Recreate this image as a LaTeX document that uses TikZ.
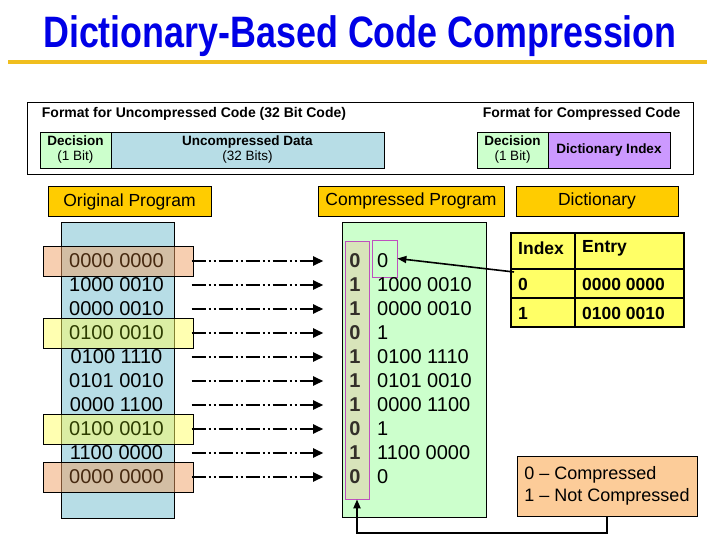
\documentclass[tikz,border=0pt]{standalone}
\usepackage{fontspec}
\usepackage{graphicx}
\setmainfont{Liberation Sans}
\usetikzlibrary{arrows.meta}

\definecolor{titleblue}{RGB}{0,0,230}
\definecolor{rulegold}{RGB}{240,190,30}
\definecolor{taggold}{RGB}{255,204,0}
\definecolor{progblue}{RGB}{183,221,230}
\definecolor{proggreen}{RGB}{204,255,204}
\definecolor{idxpurple}{RGB}{204,153,255}
\definecolor{boxpurple}{RGB}{190,80,190}
\definecolor{bitshade}{RGB}{216,228,186}
\definecolor{dictyellow}{RGB}{255,255,102}
\definecolor{legendorange}{RGB}{252,204,153}
\definecolor{hlred}{RGB}{240,160,100}
\definecolor{hlyellow}{RGB}{255,255,100}
\definecolor{inkred}{RGB}{70,40,15}
\definecolor{inkyellow}{RGB}{45,60,0}

\begin{document}
\begin{tikzpicture}[x=1pt,y=-1pt,
    fmtcell/.style={draw, inner sep=0pt, minimum height=36, align=center, font=\fontsize{13.5}{15}\selectfont},
    tagbox/.style={draw, fill=taggold, inner sep=0pt, minimum height=30, font=\fontsize{17.5}{20}\selectfont},
    codetext/.style={inner sep=0pt, font=\fontsize{20}{22}\selectfont},
    dicttext/.style={inner sep=0pt, anchor=west, font=\fontsize{17.5}{20}\selectfont\bfseries},
    rowmark/.style={draw, fill opacity=0.5, inner sep=0pt, minimum width=150, minimum height=30},
    flowarrow/.style={line width=2.2pt, dash pattern=on 14pt off 3pt on 2pt off 3pt on 2pt off 3pt,
        shorten >=26pt, -{Triangle[length=10pt,width=9pt]}}]

    \useasboundingbox (0,0) rectangle (720,540);

    % title
    \node (title) at (360,36) {\fontsize{44}{48}\selectfont\bfseries\color{titleblue}\scalebox{0.815}[1]{Dictionary-Based Code Compression}};
    \draw[rulegold, line width=4pt] (8,62) -- (707,62);

    % code formats
    \node[draw, minimum width=666, minimum height=72, inner sep=0pt] (fmtframe) at (360,138) {};
    \node[font=\fontsize{14}{16}\selectfont\bfseries] (fmtu) at (194,114) {Format for Uncompressed Code (32 Bit Code)};
    \node[font=\fontsize{14}{16}\selectfont\bfseries, anchor=east] (fmtc) at (684,114) {Format for Compressed Code};
    \node[fmtcell, fill=proggreen, minimum width=71] (decu) at (75.5,150) {\textbf{Decision}\\(1 Bit)};
    \node[fmtcell, fill=progblue, minimum width=273] (udata) at (247.5,150) {\textbf{Uncompressed Data}\\(32 Bits)};
    \node[fmtcell, fill=proggreen, minimum width=71] (decc) at (512.5,150) {\textbf{Decision}\\(1 Bit)};
    \node[fmtcell, fill=idxpurple, minimum width=122] (dindex) at (609,150) {\textbf{Dictionary Index}};

    \node[tagbox, minimum width=163] (origtag) at (129.5,201.5) {Original Program};
    \node[tagbox, minimum width=186] (comptag) at (411,201) {Compressed Program};
    \node[tagbox, minimum width=162] (dicttag) at (597,201) {Dictionary};

    % program columns
    \node[draw, fill=progblue, minimum width=113, minimum height=296, inner sep=0pt] (origcol) at (117.5,370) {};
    \node[draw, fill=proggreen, minimum width=144, minimum height=295, inner sep=0pt] (compcol) at (414,369.5) {};
    \node[draw=boxpurple, line width=0.8pt, fill=bitshade, minimum width=24, minimum height=258, inner sep=0pt] (bitcol) at (357,370) {};
    \node[draw=boxpurple, line width=0.8pt, minimum width=25, minimum height=37, inner sep=0pt] (zerobox) at (384.5,258.5) {};

    % repeated words
    \node[rowmark, fill=hlred] (mark-0) at (118,261) {};
    \node[rowmark, fill=hlyellow] (mark-3) at (118,333) {};
    \node[rowmark, fill=hlyellow] (mark-7) at (118,429) {};
    \node[rowmark, fill=hlred] (mark-9) at (118,477) {};

    \foreach \code/\bit/\data/\ink [count=\i from 0] in {0000 0000/0/0/inkred, 1000 0010/1/1000 0010/black,
        0000 0010/1/0000 0010/black, 0100 0010/0/1/inkyellow, 0100 1110/1/0100 1110/black, 0101 0010/1/0101 0010/black,
        0000 1100/1/0000 1100/black, 0100 0010/0/1/inkyellow, 1100 0000/1/1100 0000/black, 0000 0000/0/0/inkred} {
        \node[codetext, minimum width=150, text=\ink] (orig-\i) at (116.5,261+24*\i) {\code};
        \node[codetext, font=\fontsize{20}{22}\selectfont\bfseries, text=black!85!olive] (bit-\i) at (355,261+24*\i) {\bit};
        \node[codetext, anchor=west] (data-\i) at (377,261+24*\i) {\data};
        \draw[flowarrow] (orig-\i.east) -- (bit-\i.west);
    }

    % dictionary
    \node[draw, line width=2pt, fill=dictyellow, minimum width=173, minimum height=94, inner sep=0pt] (dict) at (597.5,280) {};
    \draw[line width=2pt] (575,233) -- (575,327);
    \draw[line width=2pt] (511,269) -- (684,269);
    \draw[line width=2pt] (511,298) -- (684,298);
    \node[dicttext] (idxhead) at (518,248) {Index};
    \node[dicttext] (entryhead) at (582,248) {Entry};
    \node[dicttext] (idx-0) at (518,284) {0};
    \node[dicttext] (entry-0) at (582,284) {0000 0000};
    \node[dicttext] (idx-1) at (518,313) {1};
    \node[dicttext] (entry-1) at (582,313) {0100 0010};

    \coordinate (dictptr) at (514,272);
    \draw[line width=1.6pt, -{Triangle[length=9pt,width=7pt]}] (dictptr) -- (zerobox.east);

    % legend
    \node[draw, fill=legendorange, minimum width=180, minimum height=60, inner sep=0pt, align=left,
        font=\fontsize{18}{22}\selectfont] (legend) at (607,486) {0 -- Compressed\\1 -- Not Compressed};
    \draw[line width=2pt, -{Triangle[length=9pt,width=7pt]}] (legend.south) -- ++(0,17) -| (bitcol.south);

\end{tikzpicture}
\end{document}
